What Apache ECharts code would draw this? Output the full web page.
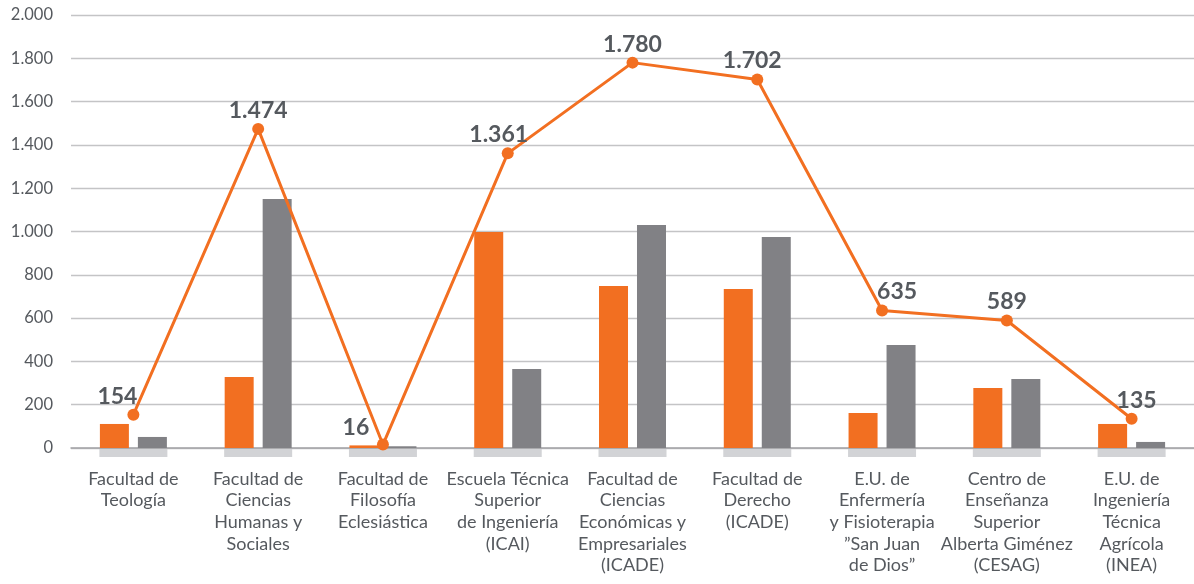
<!DOCTYPE html>
<html>
<head>
<meta charset="utf-8">
<script src="https://cdn.jsdelivr.net/npm/echarts@6/dist/echarts.min.js"></script>
<style>
  html, body { margin: 0; padding: 0; background: #fff; }
  #chart { width: 1194px; height: 584px; }
</style>
</head>
<body>
<div id="chart"></div>
<script>
// datos
const categories = [
  'Facultad de\nTeología',
  'Facultad de\nCiencias\nHumanas y\nSociales',
  'Facultad de\nFilosofía\nEclesiástica',
  'Escuela Técnica\nSuperior\nde Ingeniería\n(ICAI)',
  'Facultad de\nCiencias\nEconómicas y\nEmpresariales\n(ICADE)',
  'Facultad de\nDerecho\n(ICADE)',
  'E.U. de\nEnfermería\ny Fisioterapia\n”San Juan\nde Dios”',
  'Centro de\nEnseñanza\nSuperior\nAlberta Giménez\n(CESAG)',
  'E.U. de\nIngeniería\nTécnica\nAgrícola\n(INEA)'
]
const orangeBars = [111, 328, 12, 998, 748, 734, 162, 277, 111]
const grayBars = [51, 1150, 8, 365, 1030, 975, 476, 319, 28]
const lineValues = [154, 1474, 16, 1361, 1780, 1702, 635, 589, 135]

const ORANGE = '#f26f21'
const GRAY = '#818185'
const TEXT = '#55595e'

const fmt = v => String(v).replace(/\B(?=(\d{3})+(?!\d))/g, '.')

// desplazamiento de algunas etiquetas (como en el original)
const labelShift = { 0: [-16, 0], 2: [-27, 2], 3: [-9, 0], 5: [-5, 0], 6: [15, 0], 8: [5, 0] }

const chart = echarts.init(document.getElementById('chart'))

chart.setOption({
  animation: false,
  textStyle: { fontFamily: 'Lato, "Open Sans", sans-serif' },
  grid: { left: 71, right: -4, top: 15, bottom: 136 },
  xAxis: {
    type: 'category',
    data: categories,
    axisTick: { show: false },
    axisLine: { show: true, lineStyle: { color: '#a3a3a6', width: 1.5 } },
    axisLabel: {
      color: TEXT, fontSize: 18, lineHeight: 21.7, margin: 20, interval: 0
    }
  },
  yAxis: {
    type: 'value',
    min: 0, max: 2000, interval: 200,
    axisLine: { show: false },
    axisTick: { show: false },
    splitLine: { lineStyle: { color: '#c4c4c6', width: 1.3 } },
    axisLabel: { color: TEXT, fontSize: 16.5, margin: 18, formatter: fmt }
  },
  series: [
    {
      type: 'custom',
      clip: false,
      silent: true,
      z: 1,
      data: categories.map((c, i) => [i, 0]),
      renderItem: (params, api) => {
        const p = api.coord([api.value(0), 0])
        return {
          type: 'rect',
          shape: { x: p[0] - 34, y: p[1] + 1, width: 68, height: 8 },
          style: { fill: '#d2d3d6' }
        }
      }
    },
    {
      type: 'bar',
      data: orangeBars,
      barWidth: 29,
      barGap: '31%',
      itemStyle: { color: ORANGE },
      z: 2
    },
    {
      type: 'bar',
      data: grayBars,
      barWidth: 29,
      itemStyle: { color: GRAY },
      z: 2
    },
    {
      type: 'line',
      data: lineValues.map((v, i) => ({
        value: v,
        label: labelShift[i] ? { offset: labelShift[i] } : undefined
      })),
      z: 5,
      symbol: 'circle',
      symbolSize: 12,
      lineStyle: { color: ORANGE, width: 3 },
      itemStyle: { color: ORANGE },
      label: {
        show: true,
        position: 'top',
        distance: 1,
        color: TEXT,
        fontSize: 23,
        fontWeight: 'bold',
        formatter: p => fmt(p.value)
      }
    }
  ]
})

window.addEventListener('resize', () => chart.resize())
</script>
</body>
</html>
